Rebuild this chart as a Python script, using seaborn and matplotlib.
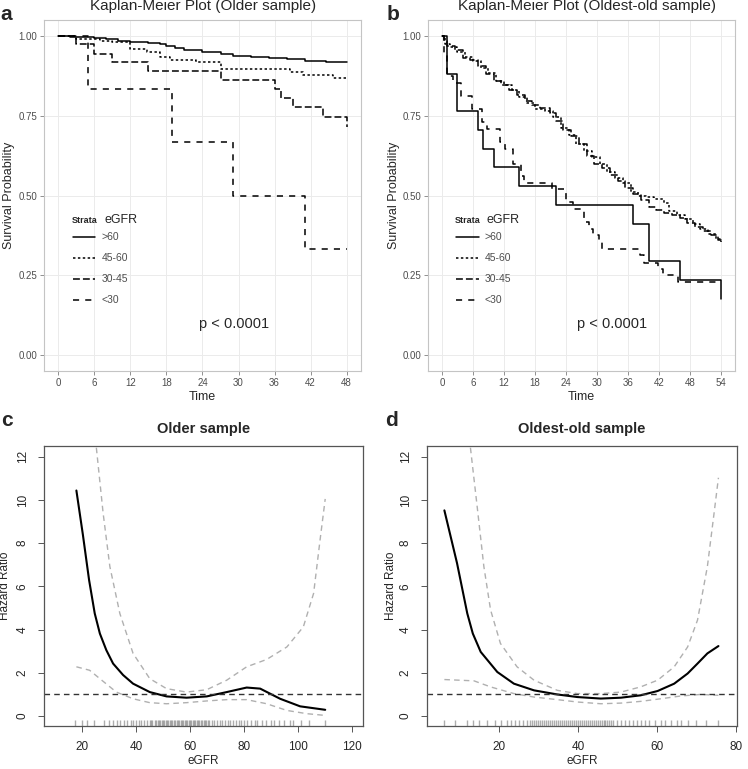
import numpy as np
import pandas as pd
import matplotlib
matplotlib.use("Agg")
import matplotlib.pyplot as plt
import seaborn as sns

# -------------------------
# Kaplan-Meier data
# -------------------------
strata = [">60", "45-60", "30-45", "<30"]

# Older sample
older_gt60_t = [0, 2, 4, 6, 8, 10, 12, 15, 17, 18, 19.5, 21, 24, 27, 29, 32, 35, 38, 41, 43, 44.5, 48]
older_gt60_s = [1.0, 0.998, 0.996, 0.994, 0.99, 0.985, 0.98, 0.979, 0.975, 0.97, 0.962, 0.956,
                0.95, 0.945, 0.938, 0.934, 0.93, 0.928, 0.923, 0.921, 0.917, 0.917]
older_4560_t = [0, 3, 7, 9, 12, 14.7, 17, 18.6, 23, 27, 38.5, 40.7, 45.7, 48]
older_4560_s = [1.0, 0.99, 0.985, 0.98, 0.958, 0.95, 0.935, 0.925, 0.918, 0.898, 0.888, 0.878, 0.868, 0.868]
older_3045_t = [0, 3, 6, 9, 15, 27, 36, 37, 39, 44, 48]
older_3045_s = [1.0, 0.974, 0.945, 0.917, 0.889, 0.861, 0.833, 0.805, 0.778, 0.745, 0.714]
older_lt30_t = [0, 5, 19, 29, 41, 48]
older_lt30_s = [1.0, 0.833, 0.667, 0.5, 0.333, 0.333]

# Oldest-old sample
oldest_gt60_t = [0, 1, 3, 7, 8, 10, 15, 22, 37, 40, 46, 54]
oldest_gt60_s = [1.0, 0.882, 0.765, 0.706, 0.647, 0.588, 0.529, 0.471, 0.412, 0.294, 0.235, 0.176]
oldest_4560_t = [0, 0.5, 1.5, 3, 4.5, 6, 7.5, 9, 10.5, 12, 13.5, 15, 16.5, 18, 20, 21.5, 23, 24.5,
                 26, 27.5, 29, 30.5, 32, 33.5, 35, 36.5, 38, 39.5, 41, 43, 44, 45.5, 47, 48.5,
                 50, 51.5, 53, 54]
oldest_4560_s = [1.0, 0.975, 0.965, 0.95, 0.935, 0.92, 0.9, 0.885, 0.86, 0.845, 0.83, 0.81, 0.79,
                 0.77, 0.765, 0.745, 0.71, 0.69, 0.66, 0.64, 0.62, 0.6, 0.575, 0.555, 0.54, 0.51,
                 0.5, 0.495, 0.49, 0.475, 0.45, 0.44, 0.425, 0.41, 0.395, 0.38, 0.365, 0.355]
oldest_3045_t = [0, 0.3, 1, 2.5, 4, 5.5, 7, 8.5, 10, 11.5, 13, 14.5, 16, 17.5, 19, 21, 22, 23.5,
                 25, 26.5, 28, 29.5, 31, 32.5, 34, 35.5, 37, 38.5, 40, 41.5, 43, 44.5, 46, 47.5,
                 49, 50.5, 52, 53.5, 54]
oldest_3045_s = [1.0, 0.985, 0.97, 0.955, 0.93, 0.925, 0.905, 0.88, 0.86, 0.845, 0.83, 0.815,
                 0.795, 0.785, 0.775, 0.76, 0.735, 0.705, 0.685, 0.66, 0.625, 0.6, 0.585, 0.565,
                 0.545, 0.525, 0.505, 0.485, 0.465, 0.455, 0.445, 0.44, 0.43, 0.415, 0.4, 0.39,
                 0.375, 0.36, 0.35]
oldest_lt30_t = [0, 0.3, 1, 2.2, 3.7, 5.9, 7.8, 8.7, 9.7, 11.2, 12.2, 13.7, 15.3, 15.9, 21.2, 24,
                 25.3, 27.5, 28.4, 29.3, 30.3, 30.9, 38.4, 39, 41.8, 42.8, 45.6, 54]
oldest_lt30_s = [1.0, 0.94, 0.875, 0.854, 0.812, 0.771, 0.73, 0.708, 0.708, 0.667, 0.646, 0.6,
                 0.562, 0.54, 0.52, 0.48, 0.458, 0.417, 0.396, 0.375, 0.354, 0.333, 0.312, 0.29,
                 0.27, 0.25, 0.229, 0.229]

# -------------------------
# Spline hazard ratio data
# -------------------------
c_x = [17.9, 20.3, 22.6, 24.7, 26.6, 29.0, 31.5, 35.2, 38.9, 45.1, 51.3, 58.7, 66.2, 73.6, 81, 86,
       93.4, 100.8, 110.1]
c_hr = [10.44, 8.4, 6.3, 4.75, 3.82, 3.05, 2.43, 1.9, 1.5, 1.11, 0.91, 0.85, 0.91, 1.11, 1.32,
        1.27, 0.8, 0.45, 0.29]
c_up_x = [25.3, 27.8, 30.3, 34, 38.9, 45.1, 51.3, 58.7, 66.2, 73.6, 81, 88.4, 95.9, 102, 105.8, 108.2, 110.1]
c_up = [12.42, 9.4, 6.92, 4.75, 2.9, 1.73, 1.27, 1.11, 1.22, 1.66, 2.28, 2.62, 3.2, 4.13, 5.68, 8.16, 10.05]
c_lo_x = [17.9, 22.8, 26.6, 32.7, 38.9, 45.1, 51.3, 58.7, 66.2, 73.6, 81, 88.4, 95.9, 103.3, 110.1]
c_lo = [2.28, 2.12, 1.73, 1.11, 0.8, 0.62, 0.57, 0.62, 0.7, 0.76, 0.76, 0.57, 0.26, 0.11, 0.03]
c_rug = [17.5, 20, 22, 24.5, 28, 30, 31.5, 33, 34, 35.5, 36.5, 38, 39, 40, 41, 42, 43, 44, 45,
         45.5, 46, 47, 47.5, 48, 48.5, 49, 49.5, 50, 50.5, 51, 51.5, 52, 52.5, 53, 53.5, 54,
         54.5, 55, 55.5, 56, 56.5, 57, 57.5, 58, 58.5, 59, 59.5, 60, 60.5, 61, 61.5, 62, 62.5,
         63, 63.5, 64, 64.5, 65, 65.5, 66, 66.5, 67, 68, 69, 70, 71, 72, 73, 74, 75, 76, 77,
         78, 79, 80, 81, 82.5, 84, 85, 86.5, 88, 90, 91, 93, 95, 97, 98, 101, 104, 110]

d_x = [6.2, 9.4, 12.0, 13.4, 15.4, 19.6, 23.8, 28.9, 34.8, 39.9, 45.8, 50.9, 55.9, 60.2, 64.4, 67.8,
       70.3, 72.8, 75.6]
d_hr = [9.52, 7.08, 4.75, 3.82, 2.97, 2.04, 1.5, 1.19, 1.0, 0.88, 0.81, 0.85, 0.96, 1.16, 1.5, 1.97,
        2.43, 2.9, 3.24]
d_up_x = [12.8, 14.5, 16.2, 17.9, 20.4, 24.6, 28.9, 34.8, 39.9, 45.8, 50.9, 55.9, 60.2, 64.4, 67.8, 70.3, 72.8, 74.5, 75.6]
d_up = [12.42, 9.7, 6.92, 4.91, 3.36, 2.28, 1.66, 1.19, 1.04, 1.04, 1.11, 1.35, 1.66, 2.28, 3.2, 4.44, 6.92, 9.4, 11.03]
d_lo_x = [6.2, 13.7, 17.9, 23.8, 28.9, 34.8, 39.9, 45.8, 50.9, 55.9, 61, 66.1, 71.1, 75.6]
d_lo = [1.69, 1.63, 1.35, 1.04, 0.88, 0.76, 0.65, 0.57, 0.6, 0.68, 0.8, 0.93, 1.0, 0.96]
d_rug = [6, 9, 12, 13.5, 15, 17, 19, 20.5, 22, 23, 24, 25, 26, 27, 28, 28.5, 29, 29.5, 30, 30.5,
         31, 31.5, 32, 32.5, 33, 33.5, 34, 34.5, 35, 35.5, 36, 36.5, 37, 37.5, 38, 38.5, 39,
         39.5, 40, 40.5, 41, 41.5, 42, 42.5, 43, 43.5, 44, 44.5, 45, 45.5, 46, 46.5, 47, 47.5,
         48, 48.5, 49, 50, 51, 52, 53, 54, 55, 56, 57, 58, 59.5, 61, 62, 63.5, 65, 66, 68, 70,
         72.5, 75.5]

# -------------------------
# Figure setup
# -------------------------
sns.set_style("ticks")
plt.rcParams["font.family"] = ["Liberation Sans", "DejaVu Sans"]

W, H = 748, 769
fig = plt.figure(figsize=(W / 100, H / 100), dpi=100)


def px_axes(x0, y0, x1, y1):
    return fig.add_axes([x0 / W, 1 - y1 / H, (x1 - x0) / W, (y1 - y0) / H])


line_styles = ["-", (0, (1.6, 1.6)), (0, (4.5, 2)), (0, (4, 4))]


def km_panel(ax, series, xmax, xticks, title, title_x, letter, letter_x):
    for (t, s), ls in zip(series, line_styles):
        df = pd.DataFrame({"Time": t, "Surv": s})
        sns.lineplot(data=df, x="Time", y="Surv", ax=ax, color="black", lw=1.1,
                     drawstyle="steps-post", estimator=None, sort=True, linestyle=ls)
    ax.set_xlim(-0.05 * xmax, 1.05 * xmax)
    ax.set_ylim(-0.05, 1.05)
    ax.set_xticks(xticks)
    ax.set_yticks([0, 0.25, 0.5, 0.75, 1.0])
    ax.set_yticklabels(["0.00", "0.25", "0.50", "0.75", "1.00"])
    ax.grid(True, color="#ebebeb", lw=0.7)
    ax.set_axisbelow(True)
    for sp in ax.spines.values():
        sp.set_visible(True)
        sp.set_color("#c4c4c4")
        sp.set_linewidth(0.8)
    ax.tick_params(length=3, width=0.6, color="#7f7f7f", labelsize=7, labelcolor="#4d4d4d", pad=2)
    ax.set_xlabel("Time", fontsize=9)
    ax.set_ylabel("Survival Probability", fontsize=9)
    ax.xaxis.set_label_coords(0.5, -0.058)
    ax.yaxis.set_label_coords(-0.092, 0.5)
    leg = ax.legend(ax.get_lines()[:4], strata, loc="upper left", bbox_to_anchor=(0.09, 0.395),
                    frameon=False, fontsize=7.5, handlelength=2.2, handletextpad=0.6,
                    labelspacing=1.05, borderpad=0, borderaxespad=0)
    for txt in leg.get_texts():
        txt.set_color("#4d4d4d")
    ax.text(0.088, 0.43, "Strata", transform=ax.transAxes, fontsize=6.5, fontweight="bold",
            va="center", ha="left")
    ax.text(0.19, 0.43, "eGFR", transform=ax.transAxes, fontsize=9, va="center", ha="left")
    ax.text(0.6, 0.134, "p < 0.0001", transform=ax.transAxes, fontsize=10.5, va="center", ha="center")
    fig.text(title_x / W, 1 - 6 / H, title, fontsize=11, ha="center", va="center")
    fig.text(letter_x / W, 1 - 14 / H, letter, fontsize=15, fontweight="bold", ha="center", va="center")


ax_a = px_axes(44, 20, 361, 371)
km_panel(ax_a,
         [(older_gt60_t, older_gt60_s), (older_4560_t, older_4560_s),
          (older_3045_t, older_3045_s), (older_lt30_t, older_lt30_s)],
         48, range(0, 49, 6), "Kaplan-Meier Plot (Older sample)", 203, "a", 6)

ax_b = px_axes(428, 20, 735, 371)
km_panel(ax_b,
         [(oldest_gt60_t, oldest_gt60_s), (oldest_4560_t, oldest_4560_s),
          (oldest_3045_t, oldest_3045_s), (oldest_lt30_t, oldest_lt30_s)],
         54, range(0, 55, 6), "Kaplan-Meier Plot (Oldest-old sample)", 587, "b", 393)


def hr_panel(ax, x, hr, ux, up, lx, lo, rug, xlim, xticks, title, letter, letter_xy, ylab_x):
    sns.lineplot(x=ux, y=up, ax=ax, color="#b0b0b0", lw=1.0, linestyle=(0, (4, 3)), estimator=None)
    sns.lineplot(x=lx, y=lo, ax=ax, color="#b0b0b0", lw=1.0, linestyle=(0, (4, 3)), estimator=None)
    sns.lineplot(x=x, y=hr, ax=ax, color="black", lw=1.5, estimator=None)
    ax.axhline(1, color="#333333", lw=1.0, linestyle=(0, (4, 3)))
    sns.rugplot(x=rug, ax=ax, height=0.022, color="#777777", lw=0.5, alpha=0.6)
    ax.set_xlim(*xlim)
    ax.set_ylim(-0.46, 12.5)
    ax.set_xticks(xticks)
    ax.set_yticks(range(0, 13, 2))
    for lab in ax.get_yticklabels():
        lab.set_rotation(90)
        lab.set_va("center")
    for sp in ax.spines.values():
        sp.set_visible(True)
        sp.set_color("#555555")
        sp.set_linewidth(0.9)
    ax.tick_params(length=4, width=0.7, color="#555555", labelsize=8.5, pad=7)
    ax.set_xlabel("eGFR", fontsize=8.5)
    ax.set_ylabel("Hazard Ratio", fontsize=8.5)
    ax.xaxis.set_label_coords(0.5, -0.104)
    ax.yaxis.set_label_coords(ylab_x, 0.5)
    ax.text(0.5, 1 + 17 / 280, title, transform=ax.transAxes, fontsize=10.5, fontweight="bold",
            ha="center", va="center")
    fig.text(letter_xy[0] / W, 1 - letter_xy[1] / H, letter, fontsize=15, fontweight="bold",
             ha="center", va="center")


ax_c = px_axes(44, 446, 363, 726)
hr_panel(ax_c, c_x, c_hr, c_up_x, c_up, c_lo_x, c_lo, c_rug, (5.9, 124.1),
         [20, 40, 60, 80, 100, 120], "Older sample", "c", (7, 420), -0.103)

ax_d = px_axes(427, 446, 737, 726)
hr_panel(ax_d, d_x, d_hr, d_up_x, d_up, d_lo_x, d_lo, d_rug, (1.8, 80.3),
         [20, 40, 60, 80], "Oldest-old sample", "d", (392, 421), -0.097)

plt.savefig("out.png", dpi=100)
plt.close()
